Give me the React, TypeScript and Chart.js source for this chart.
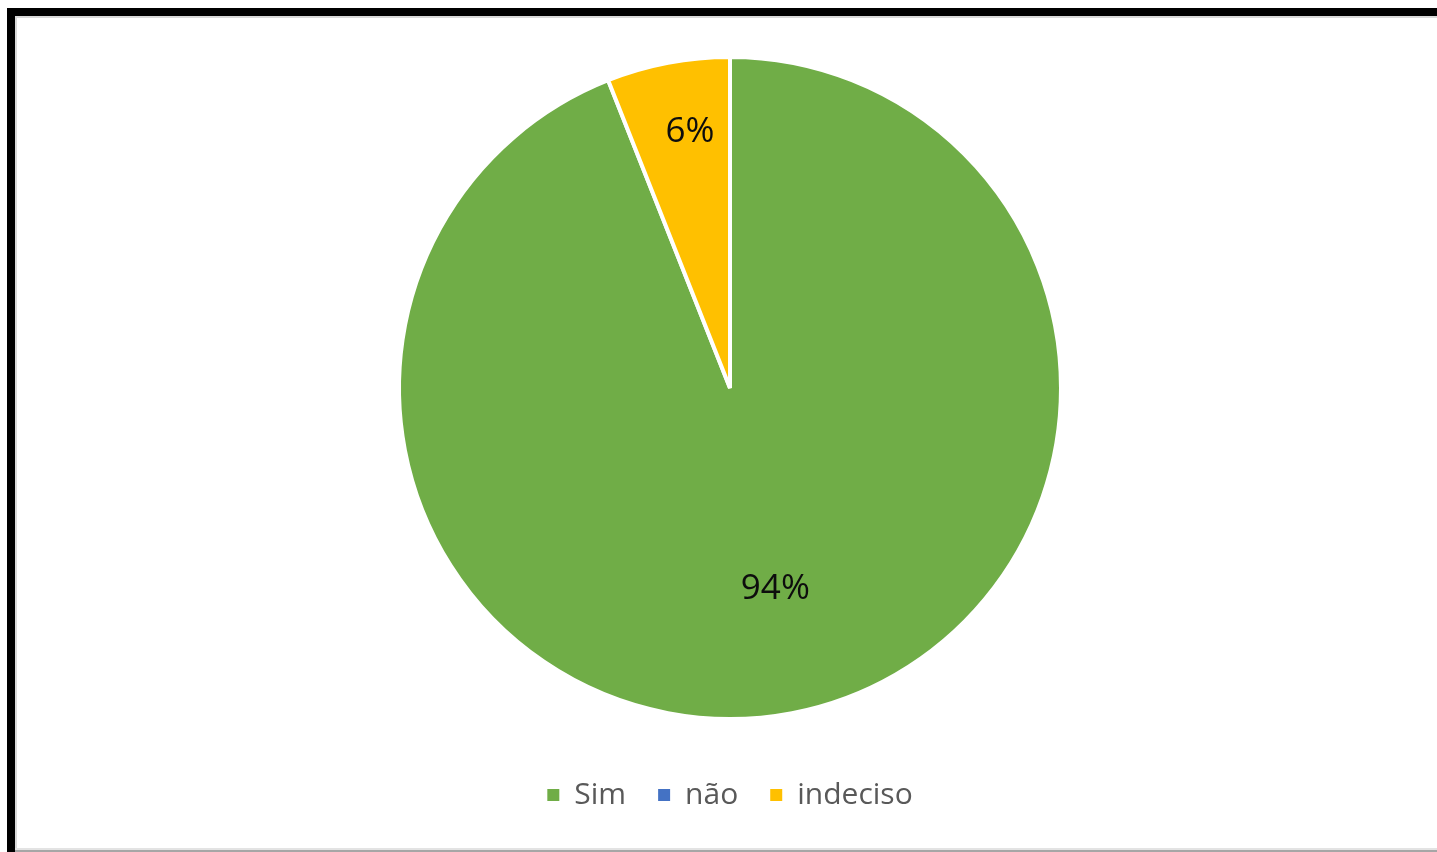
import React, { useEffect, useRef } from "react";
import { Chart, registerables } from "chart.js";

Chart.register(...registerables);

const categories = ["Sim", "não", "indeciso"];
const values = [94, 0, 6];
const labelsText = ["94%", "0%", "6%"];
const colors = ["#70AD47", "#4472C4", "#FFC000"];
const labelRadiusFraction = [0.623, 0, 0.784];
const labelAngleOffsetDeg = [-1.9, 0, 1.9];

const pctLabels = {
  id: "pctLabels",
  afterDatasetsDraw(chart: any) {
    const ctx = chart.ctx;
    const meta = chart.getDatasetMeta(0);
    ctx.save();
    ctx.font = "35px 'Open Sans'";
    ctx.fillStyle = "#0d0d0d";
    ctx.textAlign = "center";
    ctx.textBaseline = "middle";
    meta.data.forEach((arc: any, i: number) => {
      if (!values[i]) return;
      const p = arc.getProps(["x", "y", "startAngle", "endAngle", "outerRadius"], true);
      const mid = (p.startAngle + p.endAngle) / 2 + (labelAngleOffsetDeg[i] * Math.PI) / 180;
      const r = p.outerRadius * labelRadiusFraction[i];
      ctx.fillText(labelsText[i], p.x + Math.cos(mid) * r, p.y + Math.sin(mid) * r);
    });
    ctx.restore();
  },
};

export default function App() {
  const ref = useRef<HTMLCanvasElement | null>(null);
  useEffect(() => {
    if (!ref.current) return;
    const chart = new Chart(ref.current, {
      type: "pie",
      data: {
        labels: categories,
        datasets: [
          {
            data: values,
            backgroundColor: colors,
            borderColor: "#ffffff",
            borderWidth: 4,
            radius: 331,
          } as any,
        ],
      },
      options: {
        animation: false,
        responsive: false,
        maintainAspectRatio: false,
        layout: { padding: { left: 23, right: 0, top: 28, bottom: 32 } },
        plugins: {
          legend: {
            position: "bottom",
            labels: {
              boxWidth: 12,
              boxHeight: 12,
              padding: 32,
              color: "#595959",
              font: { family: "'Open Sans'", size: 30 },
              generateLabels: (c: any) =>
                categories.map((name, i) => ({
                  text: name,
                  fillStyle: colors[i],
                  strokeStyle: colors[i],
                  lineWidth: 0,
                  fontColor: "#595959",
                  hidden: false,
                  index: i,
                })),
            },
          },
          tooltip: { enabled: false },
        },
      },
      plugins: [pctLabels],
    });
    return () => chart.destroy();
  }, []);

  return (
    <div style={{ position: "fixed", left: 0, top: 0, width: 1437, height: 852, background: "#ffffff", overflow: "hidden" }}>
      <canvas ref={ref} width={1437} height={852} style={{ position: "absolute", left: 0, top: 0, width: 1437, height: 852 }} />
      <div style={{ position: "absolute", left: 7, top: 8, width: 1430, height: 8, background: "#000" }} />
      <div style={{ position: "absolute", left: 7, top: 8, width: 8, height: 844, background: "#000" }} />
      <div style={{ position: "absolute", left: 15, top: 16, width: 1422, height: 2, background: "#d9d9d9" }} />
      <div style={{ position: "absolute", left: 15, top: 16, width: 2, height: 836, background: "#d9d9d9" }} />
      <div style={{ position: "absolute", left: 15, top: 848, width: 1422, height: 2, background: "#e3e3e3" }} />
      <div style={{ position: "absolute", left: 15, top: 850, width: 1422, height: 2, background: "#a6a6a6" }} />
    </div>
  );
}
